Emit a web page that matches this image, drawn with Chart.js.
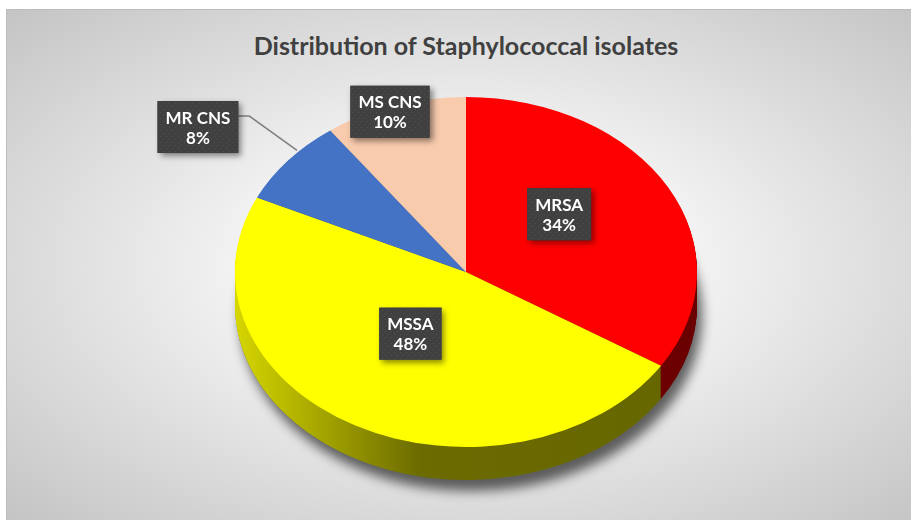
<!DOCTYPE html>
<html><head><meta charset="utf-8">
<script src="https://cdn.jsdelivr.net/npm/chart.js@4"></script>
<style>
html,body{margin:0;padding:0;background:#fff;}
#wrap{position:absolute;left:0;top:0;width:911px;height:520px;overflow:hidden;}
#bg{position:absolute;left:6px;top:9px;width:905px;height:511px;box-sizing:border-box;border-left:1px solid #bdbdbd;border-top:1px solid #bdbdbd;
 background:radial-gradient(farthest-corner at 51% 50%, #ffffff 0%, #f6f6f6 30%, #c4c4c4 100%);}
#title{position:absolute;left:0;top:30px;width:932px;text-align:center;font-family:Lato,"Open Sans",sans-serif;font-weight:bold;font-size:25px;color:#404040;white-space:nowrap;}
canvas{position:absolute;left:0;top:0;}
</style></head>
<body>
<div id="wrap">
 <div id="bg"></div>
 <div id="title">Distribution of Staphylococcal isolates</div>
 <canvas id="c" width="911" height="520"></canvas>
</div>
<script>
// ---- data ----
const categories = ['MRSA', 'MSSA', 'MR CNS', 'MS CNS'];
const shares = [34, 48, 8, 10];
const topColors = ['#FF0000', '#FFFF00', '#4472C4', '#F8CBAD'];

// ---- style ----
const K = 175 / 231;      // vertical squash of the pie (tilt)
const DEPTH = 33;         // thickness of the pie
const labelStyle = [
  {f: 0.46, dy: -19},
  {f: 0.50, dy: -15},
  {f: 0.95, dx: 0, dy: 14, boxDx: -99, boxDy: -53, leader: true},
  {f: 1.065, dy: 17}
];

function sideFill(ctx, i, R) {
  if (i === 1) {
    const g = ctx.createLinearGradient(-R, 0, R, 0);
    g.addColorStop(0, '#d6d600');
    g.addColorStop(0.22, '#9c9c00');
    g.addColorStop(0.40, '#6b6b00');
    g.addColorStop(1, '#666600');
    return g;
  }
  if (i === 0) {
    const g = ctx.createLinearGradient(-R, 0, R, 0);
    g.addColorStop(0, '#8a0000');
    g.addColorStop(1, '#6a0000');
    return g;
  }
  if (i === 2) return '#2c4a80';
  return '#b08a75';
}

function makePattern(ctx) {
  const p = document.createElement('canvas');
  p.width = 6; p.height = 6;
  const c = p.getContext('2d');
  c.fillStyle = '#404040'; c.fillRect(0, 0, 6, 6);
  c.fillStyle = '#505050';
  c.fillRect(1, 1, 1, 1); c.fillRect(4, 4, 1, 1);
  return ctx.createPattern(p, 'repeat');
}

const pie3d = {
  id: 'pie3d',
  beforeDatasetsDraw(chart) {
    const ctx = chart.ctx;
    const meta = chart.getDatasetMeta(0);
    const a0 = meta.data[0];
    const cx = a0.x, cy = a0.y, R = a0.outerRadius;
    ctx.save();
    // soft shadow under the pie
    ctx.save();
    ctx.translate(cx, cy + DEPTH);
    ctx.scale(1, K);
    ctx.beginPath(); ctx.arc(0, 0, R, 0, Math.PI * 2);
    ctx.shadowColor = 'rgba(0,0,0,0.6)';
    ctx.shadowBlur = 12; ctx.shadowOffsetY = 11; ctx.shadowOffsetX = 5;
    ctx.fillStyle = '#666'; ctx.fill();
    ctx.restore();
    // extruded sides
    for (let d = DEPTH; d >= 1; d--) {
      meta.data.forEach((arc, i) => {
        ctx.save();
        ctx.translate(cx, cy + d);
        ctx.scale(1, K);
        ctx.beginPath(); ctx.moveTo(0, 0);
        ctx.arc(0, 0, arc.outerRadius, arc.startAngle, arc.endAngle);
        ctx.closePath();
        ctx.fillStyle = sideFill(ctx, i, arc.outerRadius);
        ctx.fill();
        ctx.restore();
      });
    }
    // tilt for the top face drawn by Chart.js
    ctx.translate(cx, cy); ctx.scale(1, K); ctx.translate(-cx, -cy);
  },
  afterDatasetsDraw(chart) {
    chart.ctx.restore();
  },
  afterDraw(chart) {
    const ctx = chart.ctx;
    const meta = chart.getDatasetMeta(0);
    const total = shares.reduce((a, b) => a + b, 0);
    const pat = makePattern(ctx);
    meta.data.forEach((arc, i) => {
      const st = labelStyle[i];
      const mid = (arc.startAngle + arc.endAngle) / 2;
      const R = arc.outerRadius;
      let px = arc.x + Math.cos(mid) * R * st.f + (st.dx || 0);
      let py = arc.y + Math.sin(mid) * R * st.f * K + (st.dy || 0);
      const l1 = categories[i];
      const l2 = Math.round(shares[i] / total * 100) + '%';
      ctx.font = 'bold 17px Lato, "Open Sans", sans-serif';
      const w = Math.max(ctx.measureText(l1).width, ctx.measureText(l2).width) + 16;
      const h = 52;
      let bx, by;
      if (st.leader) {
        const ex = arc.x + Math.cos(mid) * R + 9;
        const ey = arc.y + Math.sin(mid) * R * K - 10;
        const cxB = px + st.boxDx, cyB = py + st.boxDy;
        bx = cxB - w / 2; by = cyB - h / 2;
        ctx.save();
        ctx.strokeStyle = '#7f7f7f'; ctx.lineWidth = 1.5;
        ctx.beginPath();
        ctx.moveTo(ex, ey);
        ctx.lineTo(bx + w + 11, by + 15);
        ctx.lineTo(bx + w, by + 15);
        ctx.stroke();
        ctx.restore();
      } else {
        bx = px - w / 2; by = py - h / 2;
      }
      ctx.save();
      ctx.shadowColor = 'rgba(0,0,0,0.45)';
      ctx.shadowBlur = 6; ctx.shadowOffsetX = 3; ctx.shadowOffsetY = 3;
      ctx.fillStyle = '#404040';
      ctx.fillRect(bx, by, w, h);
      ctx.restore();
      ctx.fillStyle = pat;
      ctx.fillRect(bx, by, w, h);
      ctx.fillStyle = '#ffffff';
      ctx.textAlign = 'center'; ctx.textBaseline = 'middle';
      ctx.fillText(l1, bx + w / 2, by + h / 2 - 9);
      ctx.fillText(l2, bx + w / 2, by + h / 2 + 11);
    });
  }
};

new Chart(document.getElementById('c'), {
  type: 'pie',
  data: {
    labels: categories,
    datasets: [{
      data: shares,
      backgroundColor: topColors,
      borderWidth: 0,
      hoverOffset: 0,
      offset: 0,
      clip: false
    }]
  },
  options: {
    responsive: false,
    animation: false,
    events: [],
    radius: 231,
    layout: {padding: {top: 41, bottom: 17, left: 21, right: 0}},
    plugins: {legend: {display: false}, title: {display: false}, tooltip: {enabled: false}}
  },
  plugins: [pie3d]
});
</script>
</body></html>
